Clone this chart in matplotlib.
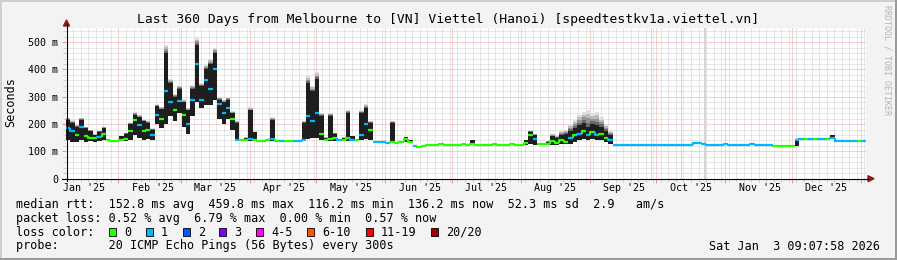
import datetime as dt
import numpy as np
import matplotlib
matplotlib.use('Agg')
import matplotlib.pyplot as plt
from matplotlib.patches import Rectangle, Polygon
from matplotlib.lines import Line2D
from matplotlib.collections import LineCollection

W, H = 897, 260

title = "Last 360 Days from Melbourne to [VN] Viettel (Hanoi) [speedtestkv1a.viettel.vn]"
start = dt.datetime(2025, 1, 8, 9, 7, 58)
span_days = 360
bin_days = 2

# one value per 2-day bin (ms)
median_ms = [
    185, 175, 160, 190, 155, 150, 148, 152, 165, 141,
    139, 138, 140, 146, 175, 215, 195, 175, 180, 160,
    235, 220, 320, 280, 250, 285, 235, 200, 290, 420,
    290, 360, 330, 400, 275, 240, 260, 220, 142, 140,
    140, 145, 140, 139, 139, 140, 145, 137, 137, 137,
    137, 137, 137, 140, 230, 210, 240, 165, 142, 145,
    148, 140, 142, 150, 140, 140, 160, 200, 180, 135,
    135, 133, 132, 135, 132, 133, 145, 135, 118, 117,
    118, 125, 124, 125, 126, 125, 125, 124, 125, 126,
    125, 126, 125, 124, 125, 125, 126, 125, 124, 125,
    126, 125, 124, 130, 160, 145, 126, 126, 128, 138,
    132, 140, 135, 150, 160, 165, 175, 160, 170, 160,
    165, 150, 142, 124, 124, 123, 124, 123, 123, 124,
    123, 122, 123, 124, 123, 123, 124, 123, 123, 124,
    124, 129, 129, 128, 125, 125, 124, 125, 126, 125,
    125, 124, 125, 125, 126, 125, 124, 125, 125, 121,
    121, 120, 121, 121, 142, 145, 144, 145, 146, 145,
    145, 146, 150, 139, 138, 138, 137, 138, 138, 139,
]
low_ms = [
    140, 135, 135, 140, 135, 138, 135, 138, 140, 138,
    138, 137, 137, 137, 140, 160, 150, 140, 145, 140,
    200, 185, 200, 230, 210, 240, 190, 165, 230, 280,
    260, 270, 270, 290, 220, 200, 220, 180, 138, 138,
    138, 138, 138, 138, 138, 138, 138, 136, 136, 136,
    136, 136, 136, 137, 145, 150, 150, 140, 138, 137,
    138, 137, 137, 137, 137, 137, 140, 145, 140, 134,
    134, 132, 131, 131, 131, 131, 135, 129, 117, 116,
    117, 124, 123, 124, 125, 124, 124, 123, 124, 125,
    124, 125, 124, 123, 124, 124, 125, 124, 123, 124,
    125, 124, 123, 124, 128, 125, 125, 125, 125, 125,
    125, 126, 126, 128, 135, 140, 145, 140, 145, 140,
    140, 135, 128, 123, 123, 122, 123, 122, 122, 123,
    122, 121, 122, 123, 122, 122, 123, 122, 122, 123,
    123, 128, 128, 127, 124, 124, 123, 124, 125, 124,
    124, 123, 124, 124, 125, 124, 123, 124, 124, 120,
    120, 119, 120, 120, 121, 144, 143, 144, 145, 144,
    144, 145, 145, 138, 137, 137, 136, 137, 137, 138,
]
high_ms = [
    215, 205, 190, 215, 185, 175, 160, 172, 185, 143,
    140, 139, 155, 165, 200, 235, 225, 210, 205, 180,
    265, 255, 460, 350, 300, 330, 280, 250, 330, 490,
    340, 400, 420, 460, 290, 280, 290, 240, 205, 142,
    150, 250, 170, 140, 140, 141, 215, 138, 138, 138,
    138, 138, 138, 205, 350, 320, 365, 230, 150, 230,
    165, 143, 150, 240, 155, 142, 240, 260, 205, 136,
    136, 134, 133, 204, 133, 134, 152, 140, 119, 118,
    119, 126, 125, 126, 127, 126, 126, 125, 126, 127,
    126, 140, 126, 125, 126, 126, 127, 126, 125, 126,
    127, 126, 125, 140, 172, 160, 127, 127, 135, 155,
    148, 160, 165, 175, 185, 195, 205, 190, 200, 195,
    190, 175, 160, 125, 125, 124, 125, 124, 124, 125,
    124, 123, 124, 125, 124, 124, 125, 124, 124, 125,
    125, 130, 130, 129, 126, 126, 125, 126, 127, 126,
    126, 125, 126, 126, 127, 126, 125, 126, 126, 122,
    122, 121, 122, 122, 145, 146, 145, 146, 147, 146,
    146, 147, 160, 140, 139, 139, 138, 139, 139, 140,
]
# loss index per bin (0 = no loss, 1 = one lost ping ...)
loss = [
    1, 1, 0, 1, 0, 0, 0, 1, 0, 0,
    0, 0, 0, 0, 0, 0, 1, 0, 0, 1,
    1, 0, 1, 1, 0, 1, 0, 1, 1, 1,
    1, 1, 1, 1, 1, 1, 1, 0, 1, 0,
    0, 1, 0, 0, 0, 0, 1, 0, 1, 0,
    0, 1, 1, 1, 1, 1, 1, 0, 0, 0,
    0, 1, 0, 0, 1, 0, 1, 1, 0, 1,
    1, 1, 1, 0, 0, 0, 0, 0, 1, 0,
    0, 0, 0, 0, 0, 0, 0, 0, 0, 0,
    0, 0, 0, 0, 0, 0, 0, 0, 0, 0,
    0, 0, 0, 0, 0, 1, 0, 0, 0, 0,
    0, 0, 0, 1, 0, 1, 0, 1, 0, 1,
    0, 0, 1, 1, 1, 1, 1, 1, 1, 1,
    1, 1, 1, 1, 1, 1, 1, 1, 1, 1,
    1, 1, 1, 1, 1, 1, 1, 1, 1, 1,
    1, 1, 1, 1, 1, 1, 1, 1, 1, 0,
    0, 0, 0, 0, 1, 1, 0, 1, 0, 1,
    1, 0, 1, 1, 1, 1, 1, 1, 0, 1,
]
# wide grey smoke during August
haze_first_bin = 108
haze_top_ms = [140, 165, 160, 175, 180, 200, 215, 235, 245, 252, 240, 245, 225, 200, 175]

# light grey unknown-data stripes (days from start)
gap_days = [263.6, 277.0, 287.6]
gap_widths = [0.5, 0.4, 1.2]

loss_colors = ['#26ff00', '#00b8ff', '#0059ff', '#7e00ff',
               '#ff00ff', '#ff5500', '#ff0000', '#a10000']
loss_labels = ['0', '1', '2', '3', '4-5', '6-10', '11-19', '20/20']

stats_line = "median rtt:  152.8 ms avg  459.8 ms max  116.2 ms min  136.2 ms now  52.3 ms sd  2.9   am/s"
loss_line = "packet loss: 0.52 % avg  6.79 % max  0.00 % min  0.57 % now"
probe_line = "probe:       20 ICMP Echo Pings (56 Bytes) every 300s"
stamp = "Sat Jan  3 09:07:58 2026"

MONO = 'DejaVu Sans Mono'
plt.rcParams['font.family'] = MONO


def fx(x):
    return x / W


def fy(y):
    return 1 - y / H


fig = plt.figure(figsize=(W / 100, H / 100), dpi=100, facecolor='#f3f3f3')
ax = fig.add_axes([fx(66), fy(178.7), 800 / W, (178.7 - 28) / H])
ax.set_facecolor('white')
ax.set_xlim(0, span_days)
ax.set_ylim(0, 552)
for s in ax.spines.values():
    s.set_visible(False)

# grid
month_starts = []
month_mids = []
for m in range(1, 13):
    d0 = (dt.datetime(2025, m, 1) - start).total_seconds() / 86400
    if 0 <= d0 <= span_days:
        month_starts.append(d0)
    month_mids.append((d0 + 15.5, dt.datetime(2025, m, 1).strftime("%b '25")))
d_jan26 = (dt.datetime(2026, 1, 1) - start).total_seconds() / 86400
month_starts.append(d_jan26)
feb1 = (dt.datetime(2025, 2, 1) - start).total_seconds() / 86400
minor_days = np.arange(feb1 - 6 * 3.39, span_days, 3.39)

ax.set_xticks(month_starts)
ax.set_xticks(minor_days, minor=True)
ax.set_yticks(range(0, 501, 100))
ax.set_yticks(range(0, 552, 20), minor=True)
ax.set_yticklabels(['0'] + ['%d m' % v for v in range(100, 501, 100)],
                   fontsize=7.2, family=MONO)
ax.tick_params(axis='x', which='both', labelbottom=False)
ax.tick_params(which='major', length=3, width=0.7, color='#f08a8a', pad=2.5)
ax.tick_params(which='minor', length=2, width=0.7, color='#cccccc')
ax.set_axisbelow(True)
ax.grid(which='minor', color='#cfcfcf', ls=(0, (1, 1)), lw=0.72)
ax.grid(which='major', color='#f0a0a0', ls=(0, (1, 1)), lw=0.72)

for mid, lab in month_mids:
    if 0 <= mid <= span_days:
        ax.text(mid, -0.06, lab, transform=ax.get_xaxis_transform(),
                ha='center', va='center', fontsize=7.2, family=MONO)

# unknown stripes
ax.bar(gap_days, [552] * len(gap_days), width=gap_widths, color='#d6d6d6',
       lw=0, zorder=1)

# smoke
x0 = np.arange(len(median_ms)) * bin_days
lo = np.array(low_ms, dtype=float)
hi = np.array(high_ms, dtype=float)
med = np.array(median_ms, dtype=float)
top = hi + 0.12 * (hi - lo)
top[haze_first_bin:haze_first_bin + len(haze_top_ms)] = haze_top_ms
shades = ['#666666', '#939393', '#bababa', '#dedede']
for k, c in enumerate(shades):
    ax.bar(x0, (top - hi) / 4, bottom=hi + (top - hi) * k / 4, width=bin_days,
           align='edge', color=c, lw=0, zorder=2)
ax.bar(x0, hi - lo, bottom=lo, width=bin_days, align='edge', color='#1e1e1e',
       lw=0, zorder=3)

# median coloured by loss; small steps joined, big jumps left open
prev = np.concatenate([[med[0]], med[:-1]])
segs = []
for x, p, m in zip(x0, prev, med):
    if abs(m - p) < 15:
        segs.append([(x, p), (x, m), (x + bin_days, m)])
    else:
        segs.append([(x, m), (x + bin_days, m)])
ax.add_collection(LineCollection(segs, colors=[loss_colors[l] for l in loss],
                                 lw=1.6, zorder=4, capstyle='butt'))

# axes with arrows
axis_c = '#000000'
arrow_c = '#8b1a1a'
fig.add_artist(Line2D([fx(66.5), fx(66.5)], [fy(181), fy(24)], color=axis_c, lw=0.8))
fig.add_artist(Line2D([fx(62), fx(868)], [fy(178.7), fy(178.7)], color=axis_c, lw=0.8))
fig.add_artist(Polygon([(fx(66.5), fy(20)), (fx(63.5), fy(26)), (fx(69.5), fy(26))],
                       closed=True, color=arrow_c, transform=fig.transFigure))
fig.add_artist(Polygon([(fx(874), fy(178.7)), (fx(868), fy(175.7)), (fx(868), fy(181.7))],
                       closed=True, color=arrow_c, transform=fig.transFigure))

# texts
fig.text(fx(448), fy(19), title, ha='center', va='center', fontsize=9.4, family=MONO)
fig.text(fx(11), fy(102.5), 'Seconds', rotation=90, ha='center', va='center',
         fontsize=8.5, family=MONO)
fig.text(fx(887), fy(5), 'RRDTOOL / TOBI OETIKER', rotation=270, ha='center', va='top',
         fontsize=6, family=MONO, color='#b4b4b4')

fig.text(fx(16), fy(204.3), stats_line, va='center', fontsize=8.5, family=MONO)
fig.text(fx(16), fy(218.3), loss_line, va='center', fontsize=8.5, family=MONO)
fig.text(fx(16), fy(232.3), 'loss color:', va='center', fontsize=8.5, family=MONO)
fig.text(fx(16), fy(246), probe_line, va='center', fontsize=8.5, family=MONO)
fig.text(fx(880), fy(246), stamp, va='center', ha='right', fontsize=8.5, family=MONO)

box_x = [109, 146, 183, 219, 256, 307, 366, 431]
for bx, c, lab in zip(box_x, loss_colors, loss_labels):
    fig.add_artist(Rectangle((fx(bx), fy(236)), 7 / W, 7.7 / H, transform=fig.transFigure,
                             facecolor=c, edgecolor='black', lw=0.6))
    fig.text(fx(bx + 15), fy(232.3), lab, va='center', fontsize=8.5, family=MONO)

# frame shading
fig.add_artist(Line2D([0, 1], [fy(1), fy(1)], color='#cfcfcf', lw=1.44))
fig.add_artist(Line2D([fx(1), fx(1)], [0, 1], color='#cfcfcf', lw=1.44))
fig.add_artist(Line2D([0, 1], [fy(259), fy(259)], color='#9a9a9a', lw=1.44))
fig.add_artist(Line2D([fx(896), fx(896)], [0, 1], color='#9a9a9a', lw=1.44))

fig.savefig('out.png', dpi=100, facecolor=fig.get_facecolor())
